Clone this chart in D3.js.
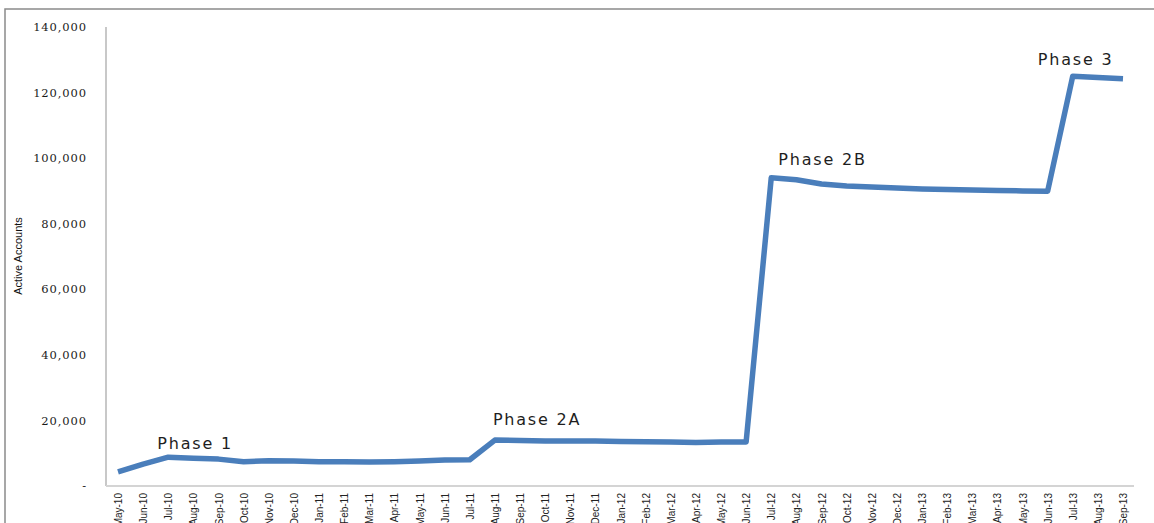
<!DOCTYPE html>
<html>
<head>
<meta charset="utf-8">
<script src="https://cdn.jsdelivr.net/npm/d3@7"></script>
<style>
  body { margin: 0; background: #fff; }
  svg { display: block; }
</style>
</head>
<body>
<div id="chart"></div>
<script>
// Active accounts by month, May-10 to Sep-13

const width = 1154;
const height = 523;

const months = [
    "May-10", "Jun-10", "Jul-10", "Aug-10", "Sep-10", "Oct-10", "Nov-10", "Dec-10",
    "Jan-11", "Feb-11", "Mar-11", "Apr-11", "May-11", "Jun-11", "Jul-11", "Aug-11",
    "Sep-11", "Oct-11", "Nov-11", "Dec-11", "Jan-12", "Feb-12", "Mar-12", "Apr-12",
    "May-12", "Jun-12", "Jul-12", "Aug-12", "Sep-12", "Oct-12", "Nov-12", "Dec-12",
    "Jan-13", "Feb-13", "Mar-13", "Apr-13", "May-13", "Jun-13", "Jul-13", "Aug-13", "Sep-13"
];

const accounts = [
    4300, 6700, 8800, 8500, 8200, 7400, 7700, 7600,
    7400, 7400, 7300, 7400, 7600, 7900, 8000, 14000,
    13900, 13700, 13700, 13700, 13600, 13500, 13400, 13300,
    13400, 13400, 94000, 93400, 92100, 91500, 91200, 90900,
    90600, 90400, 90300, 90100, 90000, 89900, 125000, 124600, 124200
];

const yTicks = [0, 20000, 40000, 60000, 80000, 100000, 120000, 140000];

const phaseLabels = ["Phase 1", "Phase 2A", "Phase 2B", "Phase 3"];
const phaseMonths = ["Jul-10", "Aug-11", "Jul-12", "Jul-13"];
const phaseValues = [8800, 14000, 94000, 125000];

// label offsets from the anchor point (pixels)
const phaseOffsets = [[-11, -8], [-2, -15], [7, -13], [-35, -11]];

const plot = { left: 106, right: 1134, top: 27, bottom: 486 };

const svg = d3.select("#chart").append("svg")
    .attr("width", width)
    .attr("height", height);

// outer frame
svg.append("rect")
    .attr("x", 5).attr("y", 9)
    .attr("width", 1200).attr("height", 600)
    .attr("fill", "none")
    .attr("stroke", "#8a8a8a")
    .attr("stroke-width", 1.5);

const xScale = d3.scalePoint()
    .domain(months)
    .range([118, 1123]);

const yScale = d3.scaleLinear()
    .domain([0, 140000])
    .range([plot.bottom, plot.top]);

// y axis
const yAxis = d3.axisLeft(yScale)
    .tickValues(yTicks)
    .tickSize(0)
    .tickPadding(19)
    .tickFormat((d) => d === 0 ? "-" : d3.format(",")(d));

const yg = svg.append("g")
    .attr("transform", `translate(${plot.left}, 0)`)
    .call(yAxis);
yg.select(".domain").remove();
yg.selectAll("text")
    .style("font-family", "'DejaVu Serif', serif")
    .style("font-size", "11.5px")
    .style("letter-spacing", "0.9px")
    .style("fill", "#1a1a1a");

svg.append("line")
    .attr("x1", plot.left).attr("x2", plot.left)
    .attr("y1", plot.top).attr("y2", plot.bottom)
    .attr("stroke", "#c8c8c8")
    .attr("stroke-width", 2);

svg.append("text")
    .attr("transform", `translate(22, 256) rotate(-90)`)
    .attr("text-anchor", "middle")
    .style("font-family", "'Liberation Sans Narrow', 'Arial Narrow', sans-serif")
    .style("font-size", "11px")
    .style("fill", "#111")
    .text("Active Accounts");

// x axis
const xAxis = d3.axisBottom(xScale).tickSize(0).tickPadding(0);
const xg = svg.append("g")
    .attr("transform", `translate(0, ${plot.bottom})`)
    .call(xAxis);
xg.select(".domain").remove();
xg.selectAll("text")
    .attr("transform", "rotate(-90)")
    .attr("text-anchor", "end")
    .attr("x", -7)
    .attr("y", 0)
    .attr("dy", "0.35em")
    .style("font-family", "'Liberation Sans Narrow', 'Arial Narrow', sans-serif")
    .style("font-size", "10px")
    .style("fill", "#222");

svg.append("line")
    .attr("x1", plot.left).attr("x2", plot.right)
    .attr("y1", plot.bottom).attr("y2", plot.bottom)
    .attr("stroke", "#d4d4d4")
    .attr("stroke-width", 2);

// series line
const line = d3.line()
    .x((d, i) => xScale(months[i]))
    .y((d) => yScale(d));

svg.append("path")
    .datum(accounts)
    .attr("d", line)
    .attr("fill", "none")
    .attr("stroke", "#4a7ebb")
    .attr("stroke-width", 5.5)
    .attr("stroke-linejoin", "round");

// phase labels
svg.selectAll(".phase")
    .data(phaseLabels)
    .join("text")
    .attr("class", "phase")
    .attr("x", (d, i) => xScale(phaseMonths[i]) + phaseOffsets[i][0])
    .attr("y", (d, i) => yScale(phaseValues[i]) + phaseOffsets[i][1])
    .style("font-family", "'DejaVu Sans', Verdana, sans-serif")
    .style("font-size", "16px")
    .style("letter-spacing", "1.8px")
    .style("fill", "#1e1e1e")
    .text((d) => d);
</script>
</body>
</html>
